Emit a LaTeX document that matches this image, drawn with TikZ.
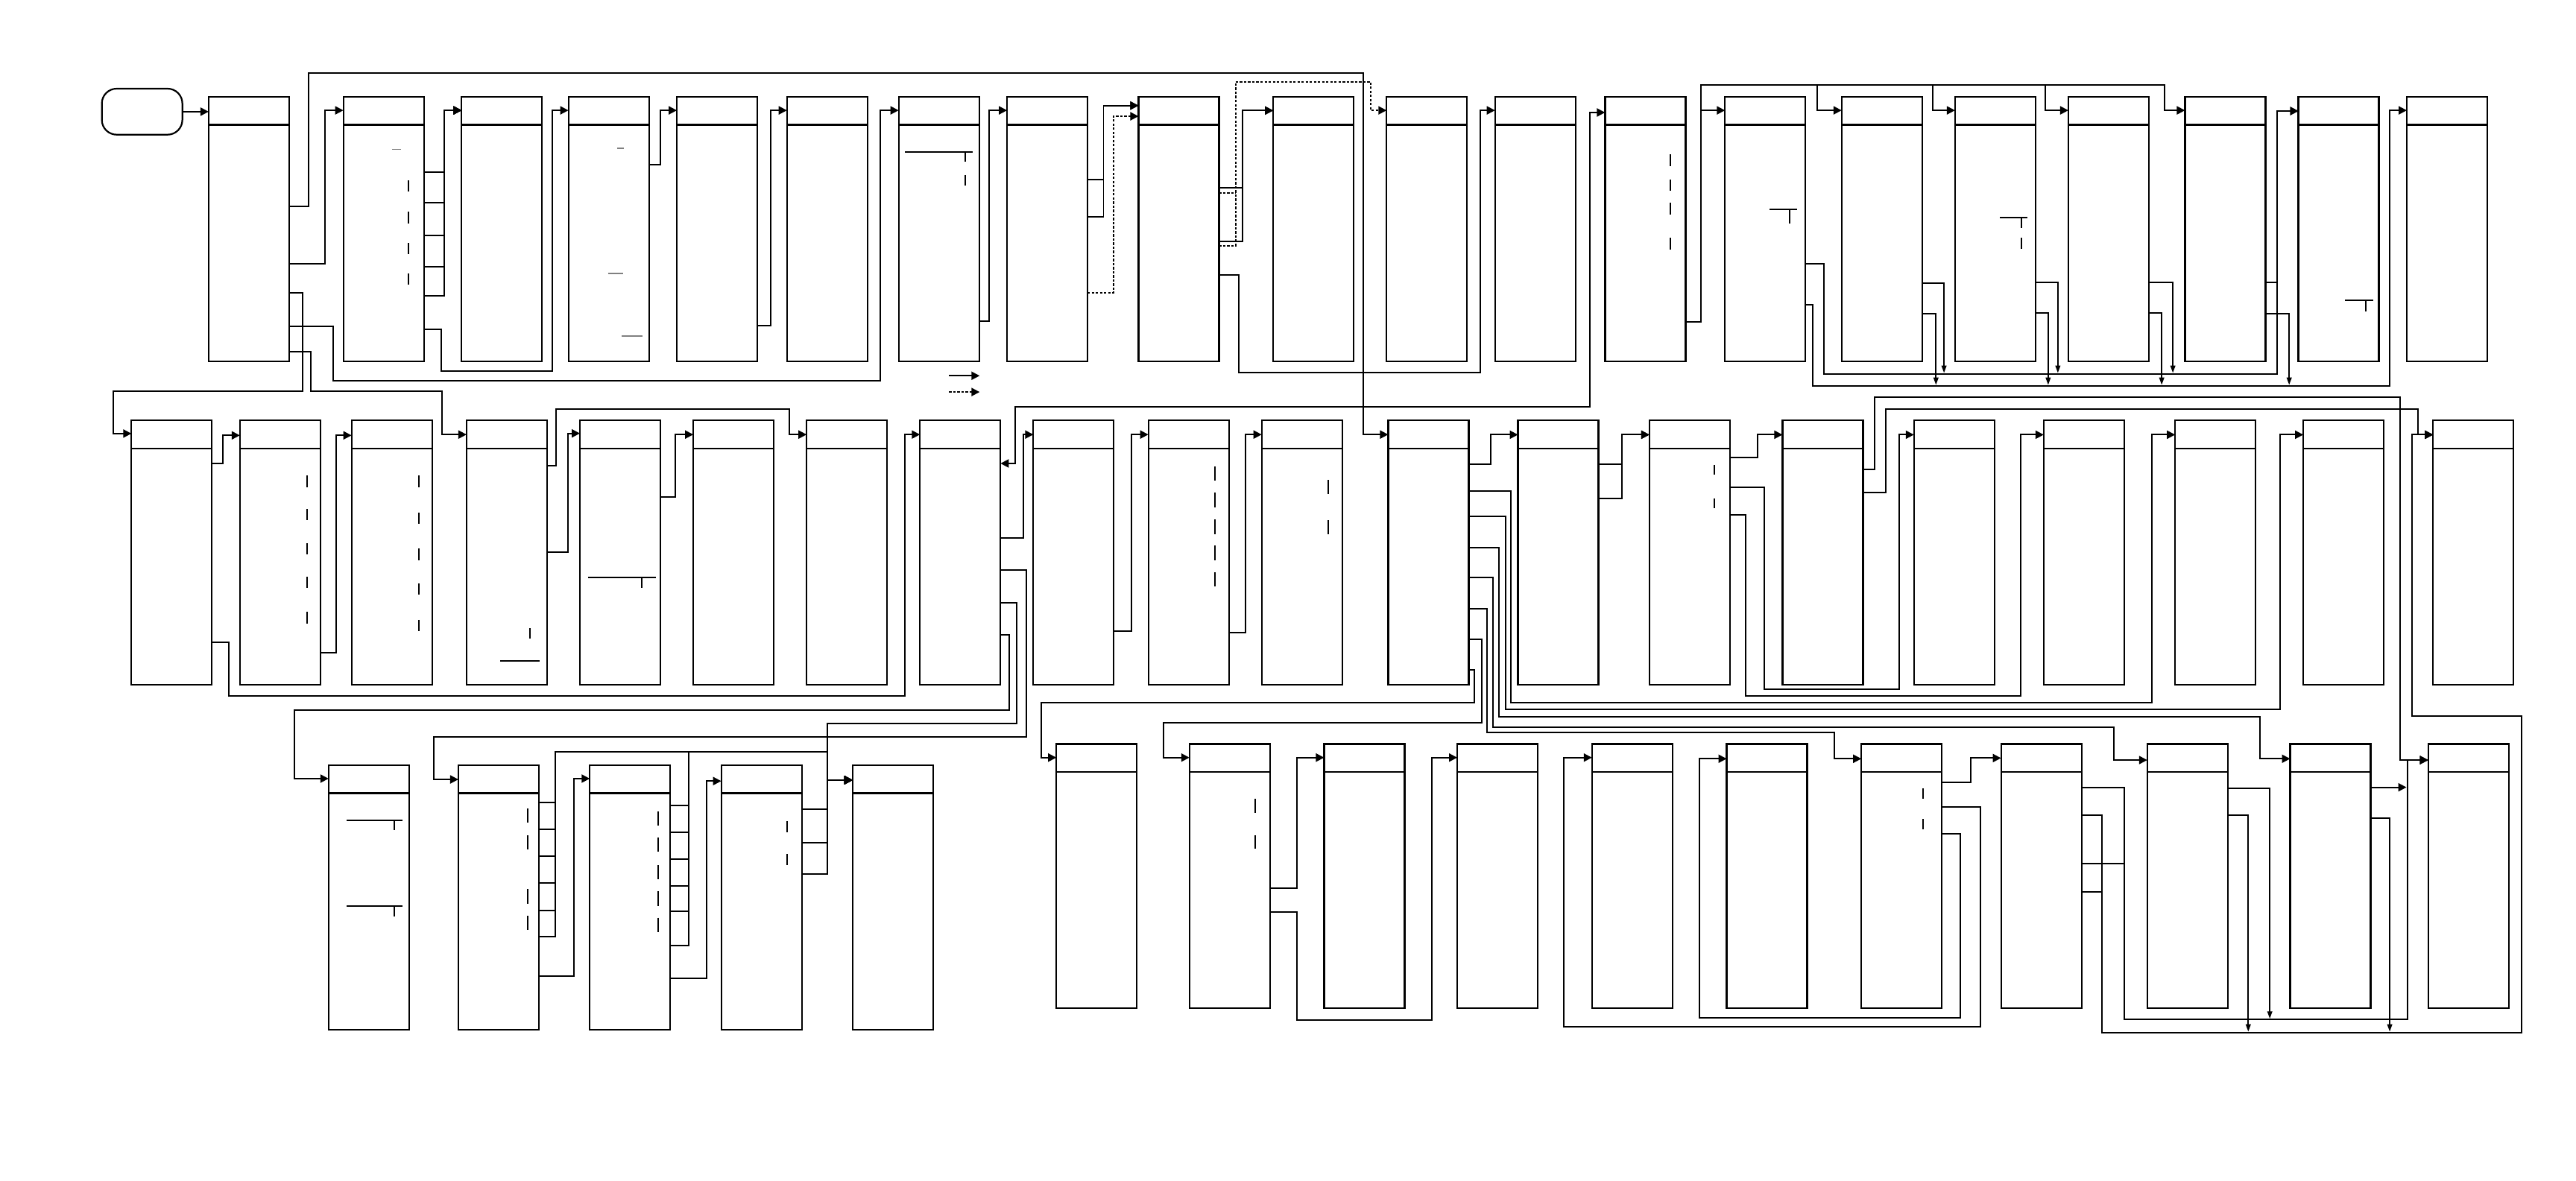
\documentclass[tikz,border=0pt]{standalone}
\usetikzlibrary{arrows.meta}
\begin{document}
\begin{tikzpicture}[x=1pt,y=-1pt,
  tbl/.style={draw, line width=1pt, inner sep=0pt, outer sep=0pt, minimum width=49pt, minimum height=161pt, anchor=north west},
  conn/.style={draw, line width=0.9pt, -{Triangle[length=5pt,width=5pt]}},
  dbl/.style={draw, line width=0.9pt, {Triangle[length=5pt,width=5pt]}-{Triangle[length=5pt,width=5pt]}},
  plain/.style={draw, line width=0.9pt},
  drop/.style={draw, line width=0.8pt, -{Triangle[length=4.5pt,width=3pt]}},
  dotc/.style={conn, dash pattern=on 1.5pt off 1pt},
  dotp/.style={plain, dash pattern=on 1.5pt off 1pt},
  tick/.style={line width=0.9pt},
  faint/.style={line width=0.5pt, gray}]
\newcommand\tb[3]{\node[tbl] (#1) at (#2,#3) {};
  \draw[line width=1pt] ([yshift=-17pt]#1.north west) -- ([yshift=-17pt]#1.north east);}
\fill[white] (0,0) rectangle (1568,718.7);
\useasboundingbox (0,0) rectangle (1568,718.7);

% start
\node[draw, line width=1pt, rounded corners=9pt, minimum width=49pt, minimum height=28pt, inner sep=0pt, outer sep=0pt, anchor=north west] (S) at (62,54) {};

% tables
\foreach \n/\x in {T1/127,T2/209,T3/281,T4/346,T5/412,T6/479,T7/547,T8/613,T9/693,T10/775,T11/844,T12/910,T13/977,T14/1050,T15/1121,T16/1190,T17/1259,T18/1330,T19/1399,T20/1465}
  {\tb{\n}{\x}{59}}
\foreach \n/\x in {Ra/80,Rb/146,Rc/214,Rd/284,Re/353,Rf/422,Rg/491,Rh/560,Ri/629,Rj/699,Rk/768,Rl/845,Rm/924,Rn/1004,Ro/1085,Rp/1165,Rq/1244,Rr/1324,Rs/1402,Rt/1481}
  {\tb{\n}{\x}{256}}
\foreach \n/\x in {Qa/200,Qb/279,Qc/359,Qd/439,Qe/519}
  {\tb{\n}{\x}{466}}
\foreach \n/\x in {Qf/643,Qg/724,Qh/806,Qi/887,Qj/969,Qk/1051,Ql/1133,Qm/1218,Qn/1307,Qo/1394,Qp/1478}
  {\tb{\n}{\x}{453}}

% ---------- row 1 connectors ----------
\draw[conn] (S.east) -- (T1.west |- S.east);
\draw[conn] (T1.east|-0,125.5) -| (188,44.5) -| (830,264.6) -- (Rl.west|-0,264.6);
\draw[conn] (T1.east|-0,160.6) -| (197.7,67.2) -- (T2.west|-0,67.2);
\draw[conn] (T1.east|-0,178.5) -| (184.1,238) -| (69,264) -- (Ra.west|-0,264);
\draw[conn] (T1.east|-0,198.6) -| (202.9,231.7) -| (535.7,67.2) -- (T7.west|-0,67.2);
\draw[conn] (T1.east|-0,214) -| (189,238) -| (269.2,264.6) -- (Rd.west|-0,264.6);

\foreach \y in {104.7,123.4,143.2,162.3,180}
  {\draw[conn] (T2.east|-0,\y) -| (270.2,67.2) -- (T3.west|-0,67.2);}
\draw[conn] (T2.east|-0,200.5) -| (268.8,226) -| (336.3,67.2) -- (T4.west|-0,67.2);
\draw[conn] (T4.east|-0,100.3) -| (402,67.2) -- (T5.west|-0,67.2);
\draw[conn] (T5.east|-0,198.1) -| (469.2,67.2) -- (T6.west|-0,67.2);
\draw[conn] (T7.east|-0,195.6) -| (602,67.2) -- (T8.west|-0,67.2);
\foreach \y in {109.3,132}
  {\draw[conn] (T8.east|-0,\y) -| (671.7,64.3) -- (T9.west|-0,64.3);}
\draw[dotc] (T8.east|-0,178.4) -| (677.7,70.8) -- (T9.west|-0,70.8);
\foreach \y in {114.3,146.9}
  {\draw[conn] (T9.east|-0,\y) -| (756.1,67.3) -- (T10.west|-0,67.3);}
\draw[dotc] (T9.east|-0,149.6) -| (752.2,49.8) -| (834.3,67.2) -- (T11.west|-0,67.2);
\draw[dotp] (T9.east|-0,117.5) -- (752.2,117.5);
\draw[conn] (T9.east|-0,167.6) -| (754,226.9) -| (901,67.2) -- (T12.west|-0,67.2);
\draw[dbl] (Rh.east|-0,282.2) -| (618,247.6) -| (967.6,68.5) -- (T13.west|-0,68.5);

\draw[conn] (T13.east|-0,195.9) -| (1035.5,67.2) -- (T14.west|-0,67.2);
\draw[conn] (T13.east|-0,195.9) -| (1035.5,51.7) -| (1106,67.2) -- (T15.west|-0,67.2);
\draw[conn] (T13.east|-0,195.9) -| (1035.5,51.7) -| (1176.6,67.2) -- (T16.west|-0,67.2);
\draw[conn] (T13.east|-0,195.9) -| (1035.5,51.7) -| (1245,67.2) -- (T17.west|-0,67.2);
\draw[conn] (T13.east|-0,195.9) -| (1035.5,51.7) -| (1317.6,67.2) -- (T18.west|-0,67.2);

\draw[conn] (T14.east|-0,160.6) -| (1110,227.6) -| (1386,67.6) -- (T19.west|-0,67.6);
\draw[conn] (T18.east|-0,171.8) -| (1386,67.6) -- (T19.west|-0,67.6);
\draw[conn] (T14.east|-0,185.6) -| (1103.3,234.9) -| (1454.7,67.2) -- (T20.west|-0,67.2);
\draw[drop] (T15.east|-0,172.4) -| (1183.3,227.1);
\draw[drop] (T15.east|-0,191) -| (1178.4,234.4);
\draw[drop] (T16.east|-0,171.8) -| (1252.6,227.1);
\draw[drop] (T16.east|-0,190.5) -| (1246.7,234.4);
\draw[drop] (T17.east|-0,171.8) -| (1322.6,227.1);
\draw[drop] (T17.east|-0,190.5) -| (1315.8,234.4);
\draw[drop] (T18.east|-0,191) -| (1393.4,234.4);

% ---------- row 2 connectors ----------
\draw[conn] (Ra.east|-0,282.4) -| (135.6,265.1) -- (Rb.west|-0,265.1);
\draw[conn] (Ra.east|-0,391.3) -| (139.3,423.8) -| (550.7,264.6) -- (Rh.west|-0,264.6);
\draw[conn] (Rb.east|-0,397.3) -| (204.4,265.1) -- (Rc.west|-0,265.1);
\draw[conn] (Rd.east|-0,283.6) -| (338.4,249) -| (480.5,264.6) -- (Rg.west|-0,264.6);
\draw[conn] (Rd.east|-0,336) -| (345.6,263.9) -- (Re.west|-0,263.9);
\draw[conn] (Re.east|-0,302.5) -| (411,264.6) -- (Rf.west|-0,264.6);
\draw[conn] (Rh.east|-0,327.4) -| (622.8,264.6) -- (Ri.west|-0,264.6);
\draw[conn] (Rh.east|-0,347.3) -| (624.6,448.7) -| (264,474.6) -- (Qb.west|-0,474.6);
\draw[conn] (Rh.east|-0,367) -| (618.8,440.4) -| (503.4,475) -- (Qe.west|-0,475);
\draw[conn] (Rh.east|-0,386.4) -| (614.2,432.5) -| (179.1,474.1) -- (Qa.west|-0,474.1);
\draw[conn] (Ri.east|-0,384.2) -| (688.8,264.6) -- (Rj.west|-0,264.6);
\draw[conn] (Rj.east|-0,385.2) -| (758.2,264.6) -- (Rk.west|-0,264.6);

\draw[conn] (Rl.east|-0,282.5) -| (907.5,264.7) -- (Rm.west|-0,264.7);
\draw[conn] (Rl.east|-0,299) -| (919.7,428) -| (1310,264.7) -- (Rr.west|-0,264.7);
\draw[conn] (Rl.east|-0,314.3) -| (916.3,432) -| (1388,264.7) -- (Rs.west|-0,264.7);
\draw[conn] (Rl.east|-0,333.5) -| (912.3,436.3) -| (1375.5,462) -- (Qo.west|-0,462);
\draw[conn] (Rl.east|-0,351.8) -| (908.8,442.8) -| (1286.9,462.8) -- (Qn.west|-0,462.8);
\draw[conn] (Rl.east|-0,370.8) -| (905,446.2) -| (1116.4,462) -- (Ql.west|-0,462);
\draw[conn] (Rl.east|-0,389.1) -| (901.8,440.1) -| (708.3,461.3) -- (Qg.west|-0,461.3);
\draw[conn] (Rl.east|-0,408) -| (897.5,428) -| (634,461.3) -- (Qf.west|-0,461.3);

\foreach \y in {282.5,303.5}
  {\draw[conn] (Rm.east|-0,\y) -| (987.2,264.7) -- (Rn.west|-0,264.7);}
\draw[conn] (Rn.east|-0,278.6) -| (1069.6,264.7) -- (Ro.west|-0,264.7);
\draw[conn] (Rn.east|-0,296.7) -| (1074.1,419.7) -| (1156,264.7) -- (Rp.west|-0,264.7);
\draw[conn] (Rn.east|-0,313.5) -| (1062.4,423.8) -| (1230,264.7) -- (Rq.west|-0,264.7);
\draw[conn] (Ro.east|-0,299.9) -| (1148,249.2) -| (1471.7,264.7) -- (Rt.west|-0,264.7);
\draw[conn] (Ro.east|-0,285.8) -| (1141,242) -| (1460.8,462.8) -- (Qp.west|-0,462.8);

% ---------- row 3 connectors ----------
\foreach \y in {488.5,504.8,521.3,537.7,554.3,570.2}
  {\draw[conn] (Qb.east|-0,\y) -| (338.2,457.8) -| (503.4,475) -- (Qe.west|-0,475);}
\foreach \y in {490.5,506.7,523,539.5,555,575.8}
  {\draw[conn] (Qc.east|-0,\y) -| (419,457.8) -| (503.4,475) -- (Qe.west|-0,475);}
\foreach \y in {492.6,513,532.4}
  {\draw[conn] (Qd.east|-0,\y) -| (503.4,475) -- (Qe.west|-0,475);}
\draw[conn] (Qb.east|-0,594.4) -| (349.4,474.1) -- (Qc.west|-0,474.1);
\draw[conn] (Qc.east|-0,595.9) -| (429.9,475.6) -- (Qd.west|-0,475.6);
\draw[conn] (Qg.east|-0,541) -| (789.4,461.3) -- (Qh.west|-0,461.3);
\draw[conn] (Qg.east|-0,555.4) -| (789.4,621.3) -| (871.5,461.3) -- (Qi.west|-0,461.3);
\draw[conn] (Ql.east|-0,476.4) -| (1199.5,461.6) -- (Qm.west|-0,461.6);
\draw[conn] (Ql.east|-0,491.5) -| (1205.5,625.4) -| (952,461.3) -- (Qj.west|-0,461.3);
\draw[conn] (Ql.east|-0,507.7) -| (1193.3,619.8) -| (1034.5,462) -- (Qk.west|-0,462);
\foreach \y in {496.4,543.1}
  {\draw[conn] (Qm.east|-0,\y) -| (1279.3,628.7) -| (1535,436) -| (1468,264.7) -- (Rt.west|-0,264.7);}
\foreach \y in {479.4,525.7}
  {\draw[conn] (Qm.east|-0,\y) -| (1293,620.8) -| (1465.5,462.8) -- (Qp.west|-0,462.8);}
\draw[drop] (Qn.east|-0,480.1) -| (1381.6,620.3);
\draw[drop] (Qn.east|-0,496.4) -| (1368.5,628.2);
\draw[drop] (Qo.east|-0,498.3) -| (1454.6,628.2);
\draw[conn] (Qo.east|-0,479.4) -- (1464.8,479.4);

% legend
\draw[conn] (577.7,228.8) -- (596.3,228.8);
\draw[dotc] (577.7,238.7) -- (596.3,238.7);

% ---------- small marks inside tables ----------
\draw[faint] (238.8,90.9) -- (244.3,90.9);
\foreach \a/\b in {109.9/116.5,128.9/136.1,148/154.6,166.7/173.2} {\draw[tick] (248.5,\a) -- (248.5,\b);}
\draw[faint] (375.7,90.3) -- (379.8,90.3);
\draw[faint] (370,166.5) -- (379.2,166.5);
\draw[faint] (378.6,204.6) -- (391.1,204.6);
\draw[tick] (550.9,92.6) -- (592,92.6);
\draw[tick] (587.4,92.6) -- (587.4,98.6);
\draw[tick] (587.4,106.6) -- (587.4,113);
\foreach \a/\b in {94/101,109.2/116,123.6/130.5,144.9/152} {\draw[tick] (1016.6,\a) -- (1016.6,\b);}
\draw[tick] (1077,127.3) -- (1093.8,127.3);
\draw[tick] (1089.4,127.3) -- (1089.4,136);
\draw[tick] (1217.4,132.3) -- (1234,132.3);
\draw[tick] (1230.5,132.3) -- (1230.5,138.8);
\draw[tick] (1230.5,144.8) -- (1230.5,151.6);
\draw[tick] (1427.4,183) -- (1444.4,183);
\draw[tick] (1440,183) -- (1440,189.6);
\foreach \a/\b in {289.6/296.9,310/316.8,330.9/337.7,351.2/358.1,372.5/379.6} {\draw[tick] (186.8,\a) -- (186.8,\b);}
\foreach \a/\b in {289.6/296.9,312.3/319.1,333.9/341,355.4/362.2,377.4/384.2} {\draw[tick] (254.8,\a) -- (254.8,\b);}
\draw[tick] (322.8,382.6) -- (322.8,388.7);
\draw[tick] (304.5,402.3) -- (328.5,402.3);
\draw[tick] (358,351.6) -- (399.2,351.6);
\draw[tick] (390.5,351.6) -- (390.5,357.9);
\foreach \a/\b in {284/292.7,299.9/308.8,316.4/325.2,332.3/341,348.5/357.2} {\draw[tick] (739.7,\a) -- (739.7,\b);}
\foreach \a/\b in {292.2/300.7,316.8/325.2} {\draw[tick] (808.5,\a) -- (808.5,\b);}
\foreach \a/\b in {283.1/288.9,303.5/309.3} {\draw[tick] (1043.6,\a) -- (1043.6,\b);}
\draw[tick] (211,499.5) -- (245,499.5);
\draw[tick] (240,499.5) -- (240,505.3);
\draw[tick] (211,551.6) -- (245,551.6);
\draw[tick] (240,551.6) -- (240,558.1);
\foreach \a/\b in {492.3/501,508.6/517.2,541.4/550.2,557.8/566.4} {\draw[tick] (321.1,\a) -- (321.1,\b);}
\foreach \a/\b in {494.1/502.9,510.1/518.8,526.8/535.4,542.6/551.6,558.8/567.5} {\draw[tick] (400.5,\a) -- (400.5,\b);}
\foreach \a/\b in {500.1/506.7,520/526.6} {\draw[tick] (478.9,\a) -- (478.9,\b);}
\foreach \a/\b in {486.5/494.9,508.6/516.8} {\draw[tick] (764.2,\a) -- (764.2,\b);}
\foreach \a/\b in {480.2/486.2,498.8/504.8} {\draw[tick] (1170.5,\a) -- (1170.5,\b);}
\end{tikzpicture}
\end{document}
